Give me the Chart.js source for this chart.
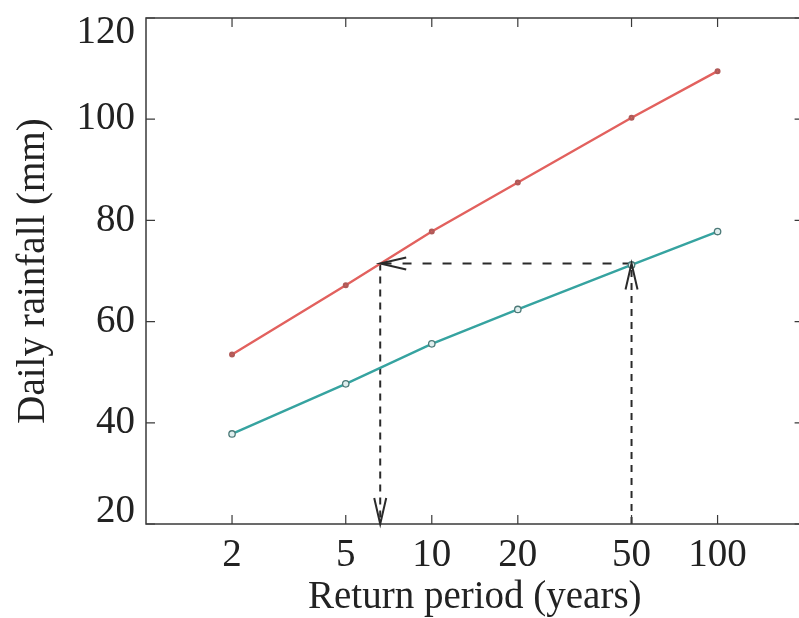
<!DOCTYPE html>
<html>
<head>
<meta charset="utf-8">
<script src="https://cdn.jsdelivr.net/npm/chart.js@4.4.1/dist/chart.umd.min.js"></script>
<style>
html, body { margin: 0; padding: 0; background: #fff; overflow: hidden; }
#wrap { width: 799px; height: 618px; overflow: hidden; }
</style>
</head>
<body>
<div id="wrap"><canvas id="rainChart" width="810" height="618"></canvas></div>
<script>
// Data
const returnPeriods = [2, 5, 10, 20, 50, 100];            // years
const upperRain = [53.5, 67.2, 77.8, 87.5, 100.3, 109.5]; // mm, red curve
const lowerRain = [37.8, 47.7, 55.6, 62.4, 71.2, 77.8];   // mm, teal curve
const xTickValues = [2, 5, 10, 20, 50, 100];
const yTickValues = [20, 40, 60, 80, 100, 120];

// construction lines: 50-yr value on lower curve read across to upper curve
const designPeriod = 50;
const designRain = 71.5;
const equivPeriod = 6.6;
const axisFloor = 20;

const serif = 'Liberation Serif, Times New Roman, serif';
const fontSize = 39;
const inkColor = '#222';
const redLine = '#e2615e';
const tealLine = '#36a3a0';
const dashInk = '#2a2a2a';

const toPoints = (xs, ys) => xs.map((x, i) => ({ x: x, y: ys[i] }));

// end labels sit inside the axis range, like in the original
const yTickFont = (c) => {
    const v = c.tick ? c.tick.value : 0;
    let lh = fontSize + 'px';
    if (v === 120) lh = '30px';
    if (v === 20) lh = '24px';
    return { family: serif, size: fontSize, lineHeight: lh };
};
const yTickText = (v) => {
    if (v === 120) return ['', '120'];
    if (v === 20) return ['20', ''];
    return String(v);
};

// box round the plot with inward ticks on all four sides
const frameBox = {
    id: 'frameBox',
    afterDatasetsDraw(chart) {
        const { ctx, chartArea: a, scales } = chart;
        ctx.save();
        ctx.strokeStyle = '#3a3a3a';
        ctx.lineWidth = 1.5;
        ctx.strokeRect(a.left, a.top, a.right - a.left, a.bottom - a.top);
        ctx.lineWidth = 1.2;
        const tl = 9;
        ctx.beginPath();
        xTickValues.forEach(v => {
            const px = scales.x.getPixelForValue(v);
            ctx.moveTo(px, a.bottom); ctx.lineTo(px, a.bottom - tl);
            ctx.moveTo(px, a.top); ctx.lineTo(px, a.top + tl);
        });
        yTickValues.forEach(v => {
            const py = scales.y.getPixelForValue(v);
            ctx.moveTo(a.left, py); ctx.lineTo(a.left + tl, py);
            ctx.moveTo(a.right, py); ctx.lineTo(a.right - tl, py);
        });
        ctx.stroke();
        ctx.restore();
    }
};

// open arrow heads at the ends of the construction lines
const arrowHeads = {
    id: 'arrowHeads',
    afterDatasetsDraw(chart) {
        const { ctx, scales } = chart;
        const heads = [
            { x: designPeriod, y: designRain, dir: 'up' },
            { x: equivPeriod, y: designRain, dir: 'left' },
            { x: equivPeriod, y: axisFloor, dir: 'down' }
        ];
        const len = 26, half = 6;
        ctx.save();
        ctx.strokeStyle = dashInk;
        ctx.lineWidth = 2;
        ctx.setLineDash([]);
        heads.forEach(h => {
            const px = scales.x.getPixelForValue(h.x);
            const py = scales.y.getPixelForValue(h.y);
            ctx.beginPath();
            if (h.dir === 'up') {
                ctx.moveTo(px - half, py + len); ctx.lineTo(px, py); ctx.lineTo(px + half, py + len);
            } else if (h.dir === 'down') {
                ctx.moveTo(px - half, py - len); ctx.lineTo(px, py); ctx.lineTo(px + half, py - len);
            } else {
                ctx.moveTo(px + len, py - half); ctx.lineTo(px, py); ctx.lineTo(px + len, py + half);
            }
            ctx.stroke();
        });
        ctx.restore();
    }
};

const noEdgePadding = (s) => {
    s.paddingTop = 0; s.paddingBottom = 0;
    s.paddingLeft = 0; s.paddingRight = 0;
};

const ctx = document.getElementById('rainChart').getContext('2d');
new Chart(ctx, {
    type: 'line',
    data: {
        datasets: [
            {
                label: 'upper',
                data: toPoints(returnPeriods, upperRain),
                borderColor: redLine,
                backgroundColor: redLine,
                borderWidth: 2.4,
                pointRadius: 1.8,
                pointBorderColor: '#b05a58',
                tension: 0
            },
            {
                label: 'lower',
                data: toPoints(returnPeriods, lowerRain),
                borderColor: tealLine,
                backgroundColor: '#dfeeee',
                borderWidth: 2.4,
                pointRadius: 3.2,
                pointBorderColor: '#4d7a78',
                pointBorderWidth: 1.3,
                tension: 0
            },
            {
                label: 'vert50',
                data: [{ x: designPeriod, y: axisFloor }, { x: designPeriod, y: designRain }],
                borderColor: dashInk,
                borderWidth: 2,
                borderDash: [7, 6],
                pointRadius: 0
            },
            {
                label: 'across',
                data: [{ x: designPeriod, y: designRain }, { x: equivPeriod, y: designRain }],
                borderColor: dashInk,
                borderWidth: 2,
                borderDash: [9, 11],
                pointRadius: 0
            },
            {
                label: 'vertEquiv',
                data: [{ x: equivPeriod, y: designRain }, { x: equivPeriod, y: axisFloor }],
                borderColor: dashInk,
                borderWidth: 2,
                borderDash: [7, 6],
                pointRadius: 0
            }
        ]
    },
    options: {
        responsive: false,
        animation: false,
        layout: { padding: { top: 18, right: 4, left: 0, bottom: 0 } },
        plugins: {
            legend: { display: false },
            tooltip: { enabled: false }
        },
        scales: {
            x: {
                type: 'logarithmic',
                min: 1,
                max: 200,
                afterBuildTicks: s => { s.ticks = xTickValues.map(v => ({ value: v })); },
                afterFit: s => { s.height = 94; noEdgePadding(s); },
                grid: { display: false, drawTicks: false },
                border: { display: false },
                ticks: {
                    autoSkip: false,
                    maxRotation: 0,
                    padding: 12,
                    color: inkColor,
                    font: { family: serif, size: fontSize, lineHeight: 1 },
                    callback: v => String(v)
                },
                title: {
                    display: true,
                    text: 'Return period (years)',
                    color: inkColor,
                    font: { family: serif, size: fontSize, lineHeight: 1 },
                    padding: { top: 0, bottom: 1 }
                }
            },
            y: {
                min: 20,
                max: 120,
                afterBuildTicks: s => { s.ticks = yTickValues.map(v => ({ value: v })); },
                afterFit: s => { s.width = 146; noEdgePadding(s); },
                grid: { display: false, drawTicks: false },
                border: { display: false },
                ticks: {
                    padding: 11,
                    color: inkColor,
                    font: yTickFont,
                    callback: yTickText
                },
                title: {
                    display: true,
                    text: 'Daily rainfall (mm)',
                    color: inkColor,
                    font: { family: serif, size: fontSize, lineHeight: 1 },
                    padding: { top: 14, bottom: 0 }
                }
            }
        }
    },
    plugins: [frameBox, arrowHeads]
});
</script>
</body>
</html>
